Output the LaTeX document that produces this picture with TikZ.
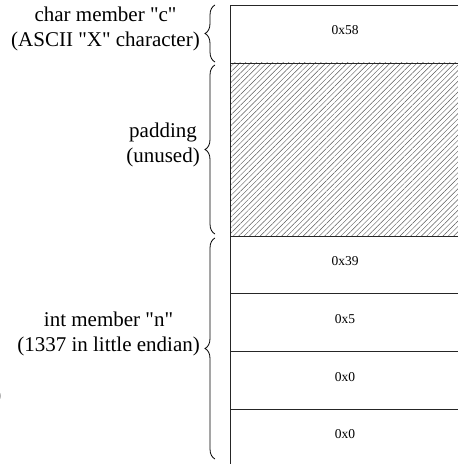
\documentclass[tikz,border=0pt]{standalone}
\usepackage{fontspec}
\setmainfont{Liberation Serif}[Ligatures=TeXOff]
\newfontfamily\plainserif{Liberation Serif}
\usetikzlibrary{decorations.pathreplacing,patterns.meta}
\tikzset{
  cell/.style={draw=black!85, line width=0.9bp, minimum width=232bp, inner sep=0pt, outer sep=0pt},
  hexlbl/.style={font=\plainserif\fontsize{13.5bp}{15bp}\selectfont, inner sep=0pt},
  lbl/.style={font=\plainserif\fontsize{21bp}{24.5bp}\selectfont, align=center, anchor=east, inner sep=0pt},
  bracepath/.style={draw, line width=0.8bp, decorate, decoration={brace, amplitude=10bp}}
}
\begin{document}
\begin{tikzpicture}[x=1bp, y=-1bp]
\useasboundingbox (0,0) rectangle (458,464);
% cells
\node[cell, minimum height=58bp, anchor=north west] (c0) at (230,5) {};
\node[cell, minimum height=173bp, anchor=north west, pattern={Lines[angle=45, distance=3.8bp, line width=0.45bp]}, pattern color=black!65] (pad) at (230,63) {};
\node[cell, minimum height=57.75bp, anchor=north west] (n0) at (230,236) {};
\node[cell, minimum height=57.75bp, anchor=north west] (n1) at (230,293.75) {};
\node[cell, minimum height=57.75bp, anchor=north west] (n2) at (230,351.5) {};
\node[cell, minimum height=57.75bp, anchor=north west] (n3) at (230,409.25) {};
% hex labels
\node[hexlbl] (h0) at (345,30) {0x58};
\node[hexlbl] (h1) at (345,261) {0x39};
\node[hexlbl] (h2) at (345,319) {0x5};
\node[hexlbl] (h3) at (345,377) {0x0};
\node[hexlbl] (h4) at (345,434) {0x0};
% braces
\coordinate (b0s) at (215,62);
\coordinate (b0e) at (215,5);
\coordinate (b1s) at (215,234);
\coordinate (b1e) at (215,65);
\coordinate (b2s) at (215,459);
\coordinate (b2e) at (215,238);
\draw[bracepath] (b0s) -- (b0e);
\draw[bracepath] (b1s) -- (b1e);
\draw[bracepath] (b2s) -- (b2e);
% labels
\node[lbl] (t0) at (200,29) {char member "c"\\(ASCII "X" character)};
\node[lbl] (t1) at (200,145) {padding\\(unused)};
\node[lbl] (t2) at (200,334) {int member "n"\\(1337 in little endian)};
\node[lbl] (t3) at (1.5,396) {)};
\end{tikzpicture}
\end{document}
